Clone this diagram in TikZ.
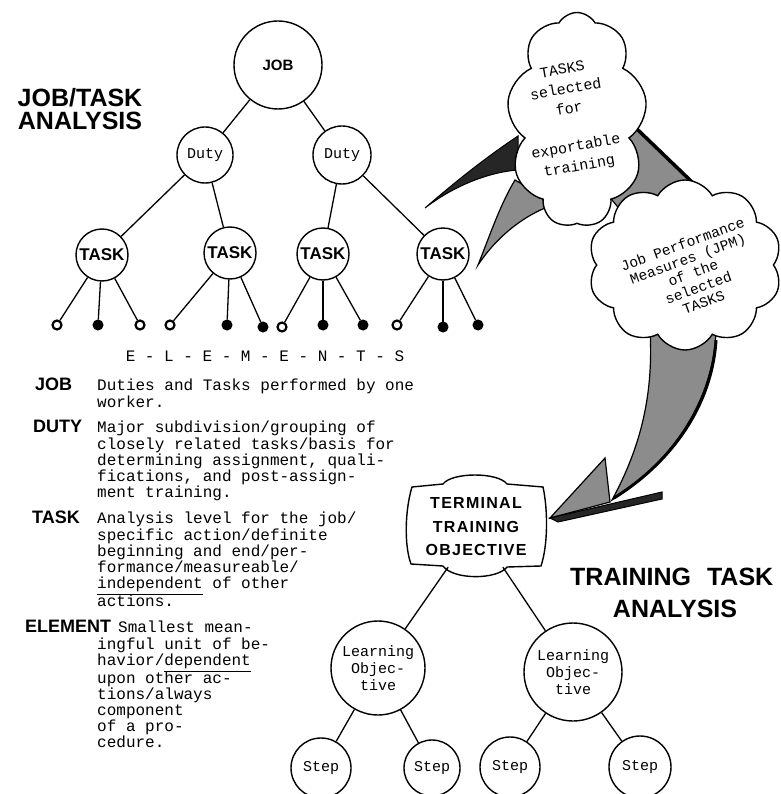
\documentclass[tikz,border=0pt]{standalone}
\usepackage{fontspec}
\setmainfont{Liberation Sans}
\newfontfamily\twfont{Liberation Mono}
\usetikzlibrary{shapes.symbols}
\begin{document}
\begin{tikzpicture}[x=1pt,y=-1pt,
  circ/.style={circle,draw,line width=1.4pt,inner sep=0pt,fill=white},
  lnk/.style={line width=1.3pt},
  dotopen/.style={circle,draw,line width=2.2pt,inner sep=0pt,minimum size=9pt,fill=white},
  dotfull/.style={circle,draw,fill=black,line width=1pt,inner sep=0pt,minimum size=10pt},
  tw/.style={font=\twfont\fontsize{16}{16}\selectfont},
  twc/.style={font=\twfont\fontsize{15}{15}\selectfont},
  tasklbl/.style={font=\bfseries\fontsize{17}{17}\selectfont},
  lbl/.style={font=\bfseries\fontsize{18}{18}\selectfont, inner sep=0pt, anchor=base west},
  deftext/.style={font=\twfont\fontsize{16}{16}\selectfont, inner sep=0pt, anchor=north west, align=left},
  title/.style={font=\bfseries\fontsize{25}{23}\selectfont, inner sep=0pt},
  shade/.style={fill=black!45, draw=black, line width=1.2pt},
  dark/.style={fill=black!85, draw=black, line width=1pt},
  cloudn/.style={cloud, draw, fill=white, line width=1.4pt, cloud ignores aspect, inner sep=0pt}
]
\useasboundingbox[fill=white] (0,0) rectangle (780,794);

% ---------- arrows (behind clouds) ----------
\path[dark] (425,208) .. controls (455,182) and (485,158) .. (518,136)
  -- (518,170) .. controls (490,172) and (455,185) .. (425,208) -- cycle;
\path[shade] (478,265) .. controls (490,235) and (500,205) .. (515,180)
  -- (556,204) .. controls (530,212) and (500,232) .. (478,265) -- cycle;
\path[shade] (612,105) -- (692,182) -- (645,240) -- (612,200) -- cycle;
\draw[line width=3.5pt] (612,105) -- (692,182);
\path[shade] (716,330) .. controls (714,400) and (672,462) .. (612,500)
  .. controls (638,452) and (654,400) .. (650,330) -- cycle;
\draw[line width=3pt] (716,340) .. controls (712,405) and (672,462) .. (614,498);
\path[shade] (550,518) -- (605,458) -- (610,502) -- cycle;
\path[dark] (550,518) -- (662,492) -- (662,499) -- (558,522) -- cycle;

% ---------- clouds ----------
\node[cloudn, cloud puffs=9, cloud puff arc=120, minimum width=140pt, minimum height=215pt] (c1) at (577,120) {};
\node[cloudn, cloud puffs=10, cloud puff arc=120, minimum width=194pt, minimum height=170pt] (c2) at (685,265) {};
\node[rotate=10, align=center, inner sep=0pt, font=\twfont\fontsize{15}{20}\selectfont] (c1t) at (571,119)
  {TASKS\\selected\\for\\[18pt]exportable\\training};
\node[rotate=20, align=center, inner sep=0pt, font=\twfont\fontsize{14.5}{15.5}\selectfont] (c2t) at (693,273)
  {Job Performance\\Measures (JPM)\\of the\\selected\\TASKS};

% ---------- titles ----------
\node[title, align=center] (t1) at (80,109) {JOB/TASK\\ANALYSIS};
\node[title, anchor=base west] (t2a) at (570,585) {TRAINING\hspace{16pt}TASK};
\node[title, anchor=base] (t2b) at (675,617) {ANALYSIS};

% ---------- job tree ----------
\node[circ, minimum size=88pt, font=\bfseries\fontsize{15}{15}\selectfont] (job) at (278,65) {JOB};
\node[circ, minimum size=56pt, twc] (duty1) at (205,155) {Duty};
\node[circ, minimum size=58pt, twc] (duty2) at (342,155) {Duty};
\node[circ, minimum size=52pt, tasklbl] (task1) at (102,255) {TASK};
\node[circ, minimum size=52pt, tasklbl] (task2) at (230,253) {TASK};
\node[circ, minimum size=52pt, tasklbl] (task3) at (323,254) {TASK};
\node[circ, minimum size=52pt, tasklbl] (task4) at (443,254) {TASK};

\node[dotopen] (e1) at (57,325) {};
\node[dotfull] (e2) at (98,325) {};
\node[dotopen] (e3) at (140,325) {};
\node[dotopen] (e4) at (170,325) {};
\node[dotfull] (e5) at (227,325) {};
\node[dotfull] (e6) at (263,327) {};
\node[dotopen] (e7) at (282,327) {};
\node[dotfull] (e8) at (323,325) {};
\node[dotfull] (e9) at (363,325) {};
\node[dotopen] (e10) at (397,325) {};
\node[dotfull] (e11) at (443,327) {};
\node[dotfull] (e12) at (478,325) {};

\draw[lnk] (job) -- (duty1);
\draw[lnk] (job) -- (duty2);
\draw[lnk] (duty1) -- (task1);
\draw[lnk] (duty1) -- (task2);
\draw[lnk] (duty2) -- (task3);
\draw[lnk] (duty2) -- (task4);
\draw[lnk] (task1) -- (e1);
\draw[lnk] (task1) -- (e2);
\draw[lnk] (task1) -- (e3);
\draw[lnk] (task2) -- (e4);
\draw[lnk] (task2) -- (e5);
\draw[lnk] (task2) -- (e6);
\draw[lnk] (task3) -- (e7);
\draw[lnk] (task3) -- (e8);
\draw[lnk] (task3) -- (e9);
\draw[lnk] (task4) -- (e10);
\draw[lnk] (task4) -- (e11);
\draw[lnk] (task4) -- (e12);

\node[tw] (elems) at (265,356) {E - L - E - M - E - N - T - S};

% ---------- definitions ----------
\node[lbl] (djob) at (35,390) {JOB};
\node[deftext] (tjob) at (97,378.8) {\strut Duties and Tasks performed by one\\worker.};
\node[lbl] (dduty) at (33,432) {DUTY};
\node[deftext] (tduty) at (97,420.8) {\strut Major subdivision/grouping of\\closely related tasks/basis for\\determining assignment, quali-\\fications, and post-assign-\\ment training.};
\node[lbl] (dtask) at (32,523) {TASK};
\node[deftext] (ttask) at (97,511.8) {\strut Analysis level for the job/\\specific action/definite\\beginning and end/per-\\formance/measureable/\\\underline{independent} of other\\actions.};
\node[lbl] (delem) at (25,632) {ELEMENT};
\node[deftext] (telem) at (97,620.8) {\strut\hspace*{21pt}Smallest mean-\\ingful unit of be-\\havior/\underline{dependent}\\upon other ac-\\tions/always\\component\\of a pro-\\cedure.};

% ---------- training tree ----------
\draw[line width=1.4pt, fill=white] (412,487) -- (443,484)
  .. controls (452,472) and (498,472) .. (507,484) -- (543,487)
  .. controls (548,510) and (548,545) .. (541,566) -- (507,567)
  .. controls (497,580) and (453,580) .. (443,566) -- (411,564)
  .. controls (404,545) and (405,510) .. (412,487) -- cycle;
\node[inner sep=0pt, minimum width=138pt, minimum height=80pt, align=center,
  font=\bfseries\fontsize{16}{23.5}\selectfont\addfontfeature{LetterSpace=8}] (tto) at (476,527)
  {TERMINAL\\TRAINING\\OBJECTIVE};

\node[circ, minimum size=94pt, align=center, font=\twfont\fontsize{15}{17}\selectfont] (lo1) at (378,668) {Learning\\Objec-\\tive};
\node[circ, minimum size=98pt, align=center, font=\twfont\fontsize{15}{17}\selectfont] (lo2) at (573,672) {Learning\\Objec-\\tive};
\node[circ, minimum size=60pt, twc] (s1) at (321,768) {Step};
\node[circ, minimum size=56pt, twc] (s2) at (432,768) {Step};
\node[circ, minimum size=60pt, twc] (s3) at (510,767) {Step};
\node[circ, minimum size=62pt, twc] (s4) at (640,767) {Step};

\draw[lnk] (tto) -- (lo1);
\draw[lnk] (tto) -- (lo2);
\draw[lnk] (lo1) -- (s1);
\draw[lnk] (lo1) -- (s2);
\draw[lnk] (lo2) -- (s3);
\draw[lnk] (lo2) -- (s4);
\end{tikzpicture}
\end{document}
